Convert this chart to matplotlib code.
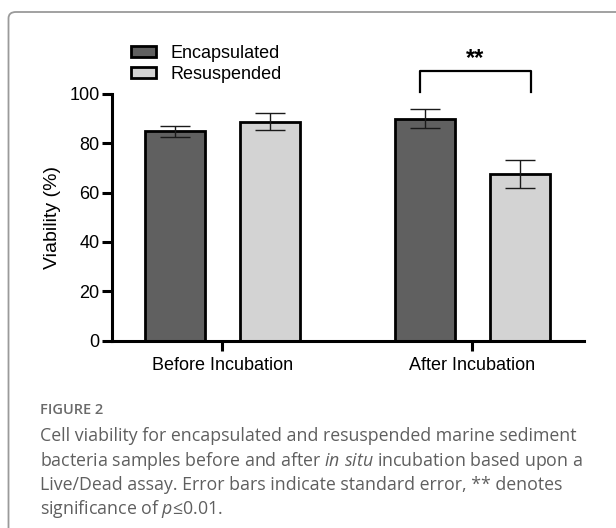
import numpy as np
import matplotlib
matplotlib.use('Agg')
import matplotlib.pyplot as plt
from matplotlib.patches import FancyBboxPatch

# data
groups = ['Before Incubation', 'After Incubation']
series = ['Encapsulated', 'Resuspended']
encapsulated = [84.8, 90.0]
encapsulated_se = [2.3, 3.9]
resuspended = [88.7, 67.4]
resuspended_se = [3.5, 5.7]

plt.rcParams['font.family'] = ['Liberation Sans', 'DejaVu Sans']
plt.rcParams['mathtext.fontset'] = 'custom'
plt.rcParams['mathtext.rm'] = 'Open Sans'
plt.rcParams['mathtext.it'] = 'Open Sans:italic'

W, H = 616, 528
fig = plt.figure(figsize=(W / 100, H / 100), dpi=100)


def fx(px):
    return px / W


def fy(py):
    return 1 - py / H


# rounded caption frame (runs off the right and bottom edges)
frame = FancyBboxPatch((fx(8.5), fy(600)), 1.2, (600 - 12) / H,
                       boxstyle='round,pad=0,rounding_size=0.012',
                       transform=fig.transFigure, facecolor='none',
                       edgecolor='#9a9a9a', linewidth=1.3)
fig.add_artist(frame)

ax = fig.add_axes([fx(112), fy(340.5), (584 - 112) / W, (340.5 - 94) / H])

x = np.arange(len(groups))
offset = 0.19
width = 0.24
err_kw = dict(elinewidth=1.0, capthick=1.0, ecolor='#1a1a1a')

ax.bar(x - offset, encapsulated, width, yerr=encapsulated_se, capsize=11,
       color='#606060', edgecolor='black', linewidth=2, error_kw=err_kw,
       label=series[0])
ax.bar(x + offset, resuspended, width, yerr=resuspended_se, capsize=11,
       color='#d3d3d3', edgecolor='black', linewidth=2, error_kw=err_kw,
       label=series[1])

ax.set_xlim(-0.441, 1.447)
ax.set_ylim(0, 100)
ax.set_xticks(x)
ax.set_xticklabels(groups, fontsize=13)
ax.set_yticks([0, 20, 40, 60, 80, 100])
ax.tick_params(axis='y', labelsize=13, length=7, width=2.2, pad=2)
ax.tick_params(axis='x', length=7, width=2.2, pad=5)
ax.set_ylabel('Viability (%)', fontsize=14, labelpad=6)

for side in ['top', 'right']:
    ax.spines[side].set_visible(False)
for side in ['left', 'bottom']:
    ax.spines[side].set_linewidth(2.2)

# significance bracket between the after-incubation bars
ax.plot([0.79, 0.79, 1.235, 1.235], [100.7, 109.3, 109.3, 100.7],
        color='black', lw=1.6, clip_on=False)
ax.text(1.012, 114.5, '**', ha='center', va='center', fontsize=17,
        fontweight='bold', clip_on=False)

leg = ax.legend(loc='upper left', bbox_to_anchor=(fx(131), fy(45)),
                bbox_transform=fig.transFigure, frameon=False, fontsize=13,
                handlelength=1.4, handleheight=0.55, handletextpad=0.8,
                labelspacing=0.22, borderpad=0, borderaxespad=0)

# caption
cap_color = '#5f5f5f'
fig.text(fx(40), fy(410), 'FIGURE 2', fontsize=10.5, color='#6a6a6a',
         fontweight='semibold', family=['Open Sans', 'DejaVu Sans'], va='center')
lines = [
    'Cell viability for encapsulated and resuspended marine sediment',
    r'bacteria samples before and after $\mathit{in\ situ}$ incubation based upon a',
    'Live/Dead assay. Error bars indicate standard error, ** denotes',
    r'significance of $\mathit{p}$≤0.01.',
]
for i, line in enumerate(lines):
    fig.text(fx(40), fy(436 + 24.5 * i), line, fontsize=12.8, color=cap_color,
             family=['Open Sans', 'DejaVu Sans'], va='center')

plt.savefig('out.png', dpi=100)
